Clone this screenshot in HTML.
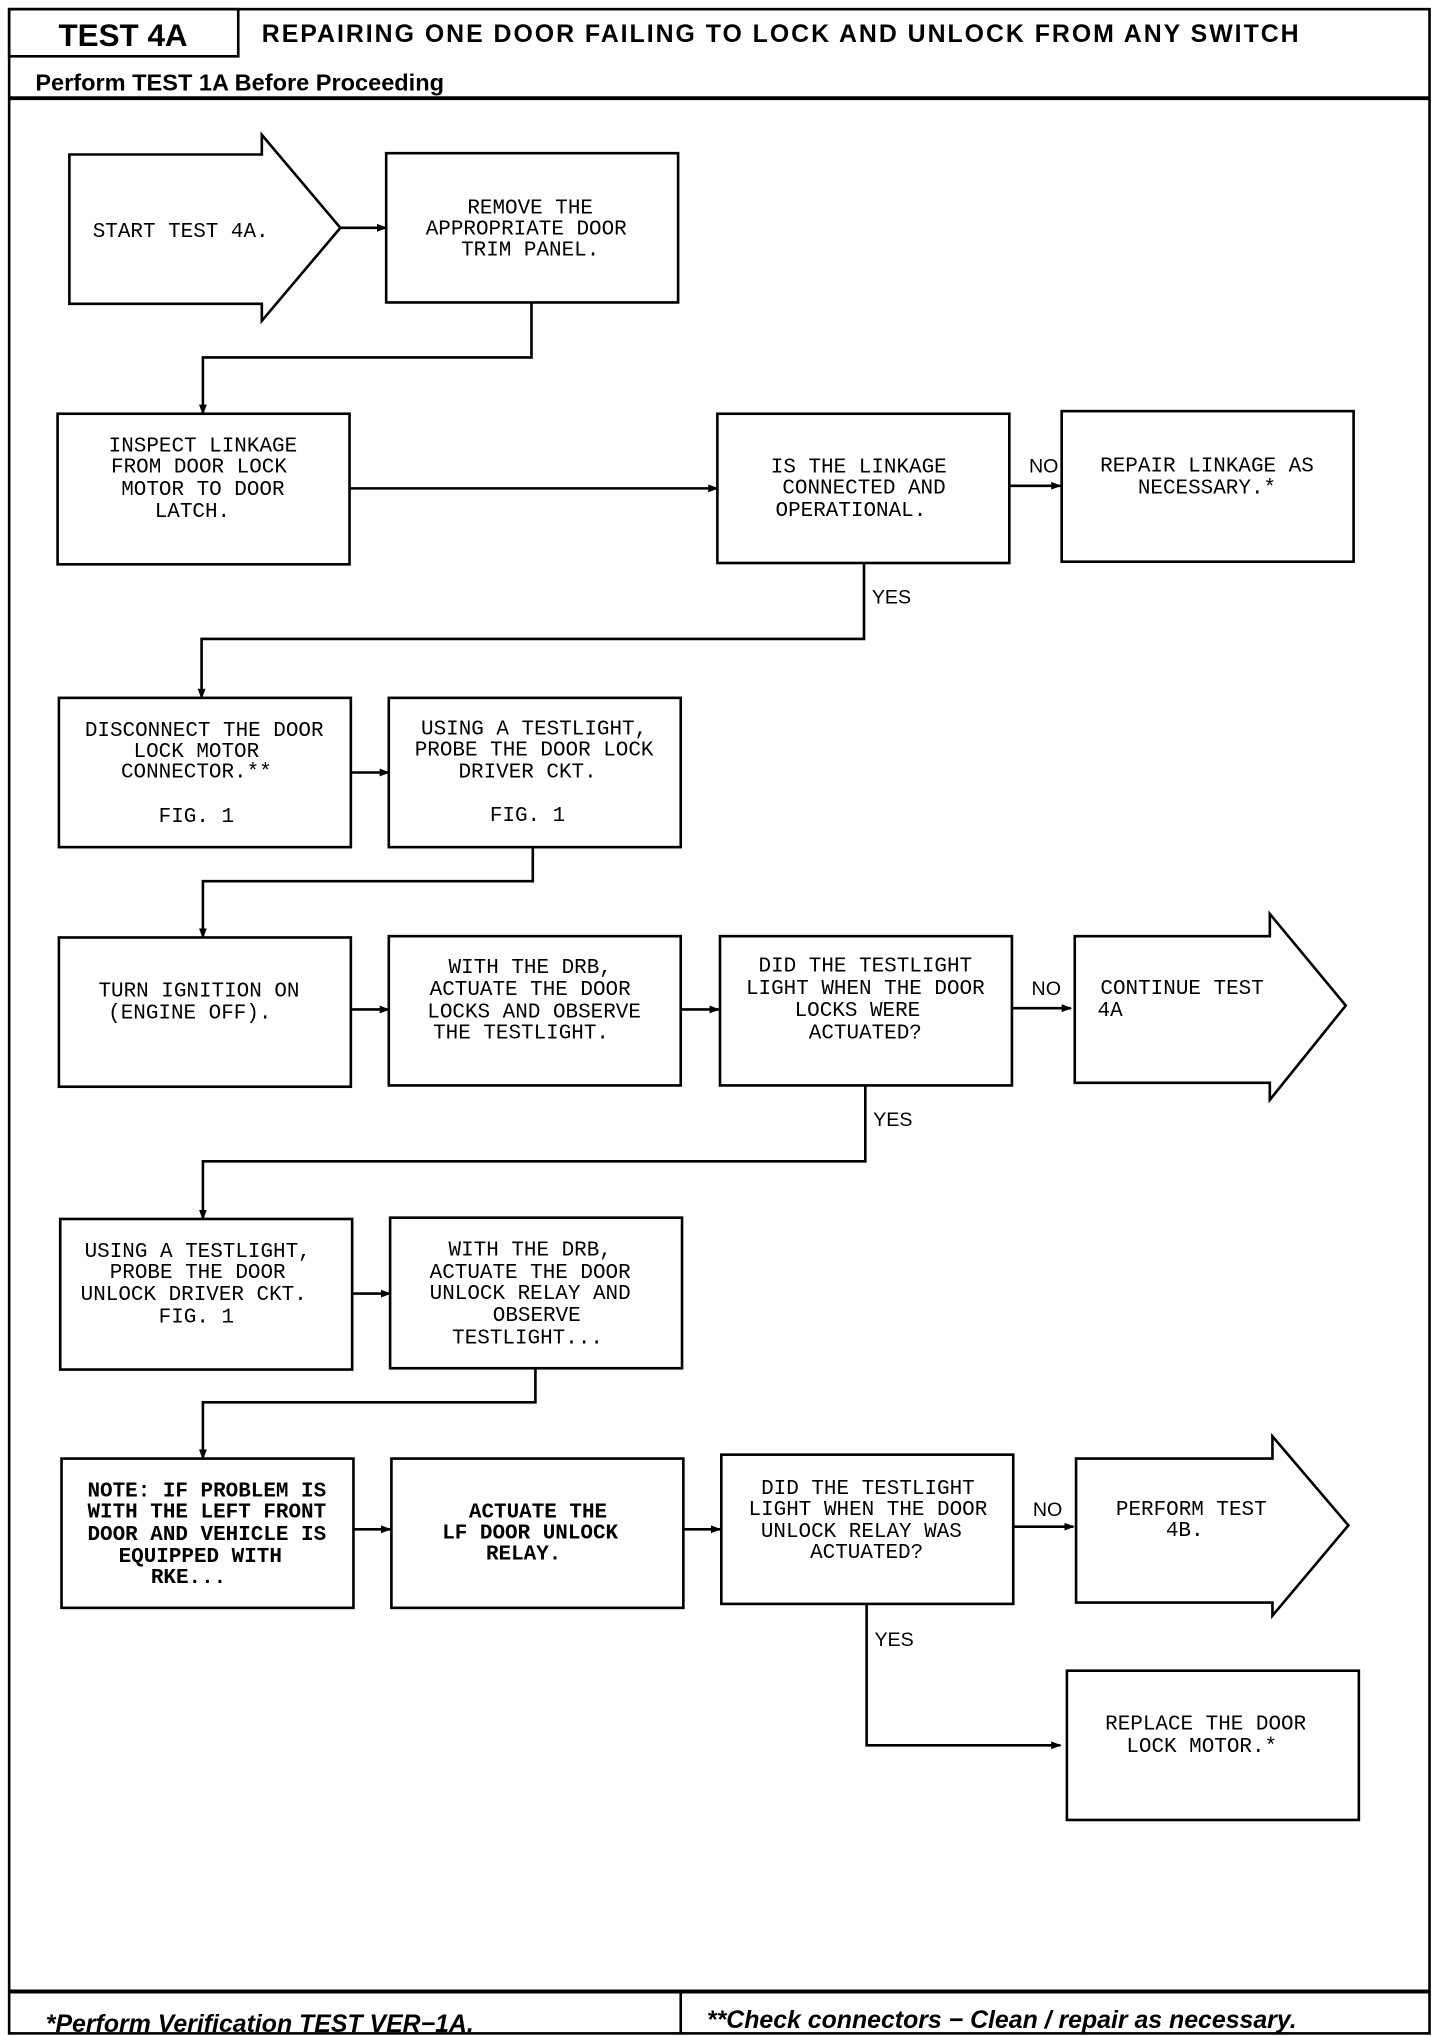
<!DOCTYPE html>
<html><head><meta charset="utf-8"><style>
html,body{margin:0;padding:0;background:#fff;}
svg{display:block}
.t{font-family:"Liberation Mono",monospace;font-size:16px;fill:#000;text-anchor:middle}
.tb{font-family:"Liberation Mono",monospace;font-size:16px;fill:#000;text-anchor:middle;font-weight:bold}
.l{font-family:"Liberation Sans",sans-serif;font-size:15px;fill:#000}
</style></head><body>
<svg width="1440" height="2036" viewBox="0 0 1100 1555" preserveAspectRatio="none" xmlns="http://www.w3.org/2000/svg">
<defs><marker id="a" markerWidth="8" markerHeight="8" refX="7" refY="4" orient="auto" markerUnits="userSpaceOnUse"><path d="M0,1 L8,4 L0,7z" fill="#000"/></marker></defs>
<g fill="none" stroke="#000" stroke-width="2">
<rect x="7" y="7" width="1085" height="1546"/>
<rect x="7" y="7" width="175" height="36"/>
<line x1="7" y1="75" x2="1092" y2="75" stroke-width="3"/>
<line x1="7" y1="1521" x2="1092" y2="1521" stroke-width="3"/>
<line x1="520" y1="1521" x2="520" y2="1553"/>
<!-- start arrow -->
<path d="M53,118 H200 V103 L260,174 L200,245 V232 H53 Z"/>
<rect x="295" y="117" width="223" height="114"/>
<line x1="260" y1="174" x2="295" y2="174" marker-end="url(#a)"/>
<polyline points="406,231 406,273 155,273 155,316" marker-end="url(#a)"/>
<rect x="44" y="316" width="223" height="115"/>
<line x1="267" y1="373" x2="548" y2="373" marker-end="url(#a)"/>
<rect x="548" y="316" width="223" height="114"/>
<line x1="771" y1="371" x2="810" y2="371" marker-end="url(#a)"/>
<rect x="811" y="314" width="223" height="115"/>
<polyline points="660,430 660,488 154,488 154,533" marker-end="url(#a)"/>
<rect x="45" y="533" width="223" height="114"/>
<line x1="268" y1="590" x2="297" y2="590" marker-end="url(#a)"/>
<rect x="297" y="533" width="223" height="114"/>
<polyline points="407,647 407,673 155,673 155,716" marker-end="url(#a)"/>
<rect x="45" y="716" width="223" height="114"/>
<line x1="268" y1="771" x2="297" y2="771" marker-end="url(#a)"/>
<rect x="297" y="715" width="223" height="114"/>
<line x1="520" y1="771" x2="549" y2="771" marker-end="url(#a)"/>
<rect x="550" y="715" width="223" height="114"/>
<line x1="773" y1="770" x2="818" y2="770" marker-end="url(#a)"/>
<path d="M821,715 H970 V698 L1028,768 L970,840 V827 H821 Z"/>
<polyline points="661,829 661,887 155,887 155,931" marker-end="url(#a)"/>
<rect x="46" y="931" width="223" height="115"/>
<line x1="269" y1="988" x2="298" y2="988" marker-end="url(#a)"/>
<rect x="298" y="930" width="223" height="115"/>
<polyline points="409,1045 409,1071 155,1071 155,1114" marker-end="url(#a)"/>
<rect x="47" y="1114" width="223" height="114"/>
<line x1="270" y1="1168" x2="298" y2="1168" marker-end="url(#a)"/>
<rect x="299" y="1114" width="223" height="114"/>
<line x1="522" y1="1168" x2="550" y2="1168" marker-end="url(#a)"/>
<rect x="551" y="1111" width="223" height="114"/>
<line x1="774" y1="1166" x2="820" y2="1166" marker-end="url(#a)"/>
<path d="M822,1114 H972 V1097 L1030,1165 L972,1234 V1224 H822 Z"/>
<polyline points="662,1225 662,1333 810,1333" marker-end="url(#a)"/>
<rect x="815" y="1276" width="223" height="114"/>
</g>
<text x="94" y="35" font-family="Liberation Sans,sans-serif" font-weight="bold" font-size="24" text-anchor="middle">TEST 4A</text>
<text x="200" y="32" font-family="Liberation Sans,sans-serif" font-weight="bold" font-size="19" textLength="792">REPAIRING ONE DOOR FAILING TO LOCK AND UNLOCK FROM ANY SWITCH</text>
<text x="27" y="69" font-family="Liberation Sans,sans-serif" font-weight="bold" font-size="18">Perform TEST 1A Before Proceeding</text>
<text x="35" y="1552" font-family="Liberation Sans,sans-serif" font-weight="bold" font-style="italic" font-size="19">*Perform Verification TEST VER−1A.</text>
<text x="540" y="1549" font-family="Liberation Sans,sans-serif" font-weight="bold" font-style="italic" font-size="19">**Check connectors − Clean / repair as necessary.</text>
<g class="t">
<text x="138" y="181">START TEST 4A.</text>
<text x="405" y="163">REMOVE THE</text><text x="402" y="179">APPROPRIATE DOOR</text><text x="405" y="195">TRIM PANEL.</text>
<text x="155" y="345">INSPECT LINKAGE</text><text x="152" y="361">FROM DOOR LOCK</text><text x="155" y="378">MOTOR TO DOOR</text><text x="147" y="395">LATCH.</text>
<text x="656" y="361">IS THE LINKAGE</text><text x="660" y="377">CONNECTED AND</text><text x="650" y="394">OPERATIONAL.</text>
<text x="922" y="360">REPAIR LINKAGE AS</text><text x="922" y="377">NECESSARY.*</text>
<text x="156" y="562">DISCONNECT THE DOOR</text><text x="150" y="578">LOCK MOTOR</text><text x="150" y="594">CONNECTOR.**</text><text x="150" y="628">FIG. 1</text>
<text x="408" y="561">USING A TESTLIGHT,</text><text x="408" y="577">PROBE THE DOOR LOCK</text><text x="403" y="594">DRIVER CKT.</text><text x="403" y="627">FIG. 1</text>
<text x="152" y="761">TURN IGNITION ON</text><text x="145" y="778">(ENGINE OFF).</text>
<text x="405" y="743">WITH THE DRB,</text><text x="405" y="760">ACTUATE THE DOOR</text><text x="408" y="777">LOCKS AND OBSERVE</text><text x="398" y="793">THE TESTLIGHT.</text>
<text x="661" y="742">DID THE TESTLIGHT</text><text x="661" y="759">LIGHT WHEN THE DOOR</text><text x="655" y="776">LOCKS WERE</text><text x="661" y="793">ACTUATED?</text>
<text x="903" y="759">CONTINUE TEST</text><text x="848" y="776">4A</text>
<text x="151" y="960">USING A TESTLIGHT,</text><text x="151" y="976">PROBE THE DOOR</text><text x="148" y="993">UNLOCK DRIVER CKT.</text><text x="150" y="1010">FIG. 1</text>
<text x="405" y="959">WITH THE DRB,</text><text x="405" y="976">ACTUATE THE DOOR</text><text x="405" y="992">UNLOCK RELAY AND</text><text x="410" y="1009">OBSERVE</text><text x="403" y="1026">TESTLIGHT...</text>
<text x="663" y="1141">DID THE TESTLIGHT</text><text x="663" y="1157">LIGHT WHEN THE DOOR</text><text x="658" y="1174">UNLOCK RELAY WAS</text><text x="662" y="1190">ACTUATED?</text>
<text x="910" y="1157">PERFORM TEST</text><text x="905" y="1173">4B.</text>
<text x="921" y="1321">REPLACE THE DOOR</text><text x="918" y="1338">LOCK MOTOR.*</text>
</g>
<g class="tb">
<text x="158" y="1143">NOTE: IF PROBLEM IS</text><text x="158" y="1159">WITH THE LEFT FRONT</text><text x="158" y="1176">DOOR AND VEHICLE IS</text><text x="153" y="1193">EQUIPPED WITH</text><text x="144" y="1209">RKE...</text>
<text x="411" y="1159">ACTUATE THE</text><text x="405" y="1175">LF DOOR UNLOCK</text><text x="400" y="1191">RELAY.</text>
</g>
<g class="l">
<text x="786" y="361">NO</text><text x="666" y="461">YES</text>
<text x="788" y="760">NO</text><text x="667" y="860">YES</text>
<text x="789" y="1158">NO</text><text x="668" y="1257">YES</text>
</g>
</svg>
</body></html>
